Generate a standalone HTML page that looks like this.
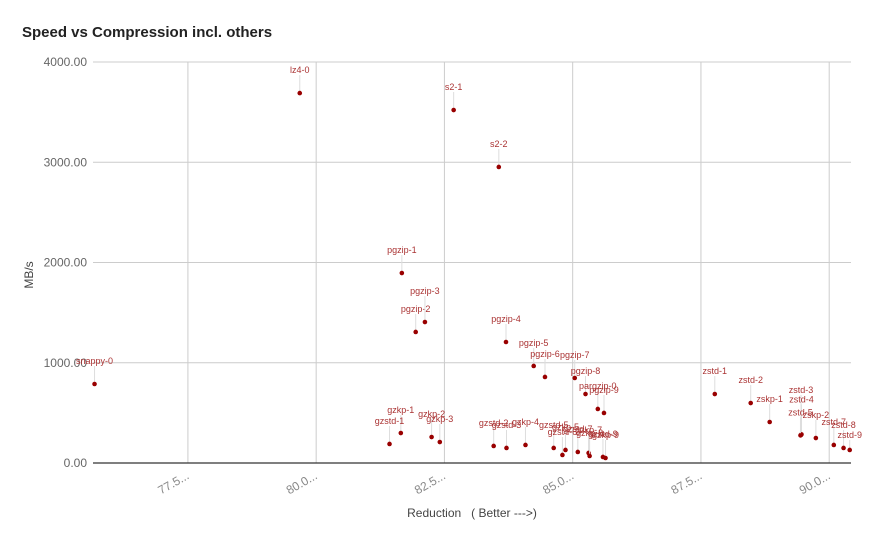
<!DOCTYPE html>
<html><head><meta charset="utf-8"><style>
body{margin:0;background:#fff;}
svg{display:block;font-family:"Liberation Sans",sans-serif;}
</style></head><body>
<svg id="chart" width="872" height="539">
<text x="22" y="37" font-size="15" font-weight="bold" fill="#222">Speed vs Compression incl. others</text>
<g id="grid"></g><g id="marks"></g>
<text x="472" y="517" font-size="12" fill="#444" text-anchor="middle" xml:space="preserve" style="white-space:pre">Reduction   ( Better ---&gt;)</text>
<text transform="translate(33,275) rotate(-90)" font-size="12" fill="#444" text-anchor="middle">MB/s</text>
</svg>
<script>
const names=["snappy-0","lz4-0","s2-1","s2-2","pgzip-1","pgzip-2","pgzip-3","pgzip-4","pgzip-5","pgzip-6","pgzip-7","pgzip-8","pargzip-0","pgzip-9","gzkp-1","gzstd-1","gzkp-2","gzkp-3","gzstd-2","gzstd-3","gzkp-4","gzstd-5","gzstd-6","gzkp-5","gzstd-7","gzkp-7","gzkp-8","gzstd-9","gzkp-9","zstd-1","zstd-2","zskp-1","zstd-3","zstd-4","zstd-5","zskp-2","zstd-7","zstd-8","zstd-9"];
const reduction=[75.68,79.68,82.68,83.56,81.67,81.94,82.12,83.70,84.24,84.46,85.04,85.25,85.49,85.61,81.65,81.43,82.25,82.41,83.46,83.71,84.08,84.63,84.80,84.86,85.10,85.31,85.33,85.59,85.64,87.77,88.47,88.84,89.45,89.46,89.44,89.74,90.09,90.28,90.40];
const speed=[788,3690,3521,2953,1895,1307,1406,1207,968,858,848,688,539,499,299,190,259,209,170,150,180,150,80,130,110,100,70,60,50,688,598,409,279,285,275,249,180,150,130];
const labelLift=[20,20,20,20,20,20,28,20,20,20,20,20,20,20,20,20,20,20,20,20,20,20,20,20,20,20,20,20,20,20,20,20,42,32,20,20,20,20,12];
const yTicks=[0,1000,2000,3000,4000];
const yTickLabels=["0.00","1000.00","2000.00","3000.00","4000.00"];
const xTicks=[77.5,80,82.5,85,87.5,90];
const xTickLabels=["77.5...","80.0...","82.5...","85.0...","87.5...","90.0..."];
const L=93,R=851,T=62,B=463,xMin=75.65,xMax=90.425,yMax=4000;
const X=v=>L+(v-xMin)/(xMax-xMin)*(R-L), Y=v=>B-v/yMax*(B-T);
const NS="http://www.w3.org/2000/svg";
function mk(t,a,p){const e=document.createElementNS(NS,t);for(const k in a)e.setAttribute(k,a[k]);p.appendChild(e);return e;}
const g=document.getElementById('grid'),m=document.getElementById('marks');
yTicks.forEach((v,i)=>{
 if(v>0){const l=mk('line',{x1:L,x2:R,y1:Y(v),y2:Y(v),stroke:'#ccc'},g);
 
 }
 const t=mk('text',{x:87,y:Y(v)+4,'font-size':12,fill:'#666','text-anchor':'end'},g);t.textContent=yTickLabels[i];
 
 
});
xTicks.forEach((v,i)=>{
 const l=mk('line',{x1:X(v),x2:X(v),y1:T,y2:B,stroke:'#ccc'},g);
 
 
 const t=mk('text',{transform:`translate(${X(v)+2},478) rotate(-30)`,'font-size':12,fill:'#888','text-anchor':'end'},g);t.textContent=xTickLabels[i];
 
 
});
const ax=mk('line',{x1:L,x2:R,y1:B,y2:B,stroke:'#333','stroke-width':1.2},g);


names.forEach((n,i)=>{
 const px=X(reduction[i]),py=Y(speed[i]),ly=py-labelLift[i];
 const s=mk('line',{x1:px,x2:px,y1:ly+2,y2:py,stroke:'#ddd'},m);
 
 
 const c=mk('circle',{cx:px,cy:py,r:2.3,fill:'#990000'},m);
 
 
 const t=mk('text',{x:px,y:ly,'font-size':9,fill:'#a33','text-anchor':'middle'},m);t.textContent=n;
 
 
});
</script>
</body></html>
